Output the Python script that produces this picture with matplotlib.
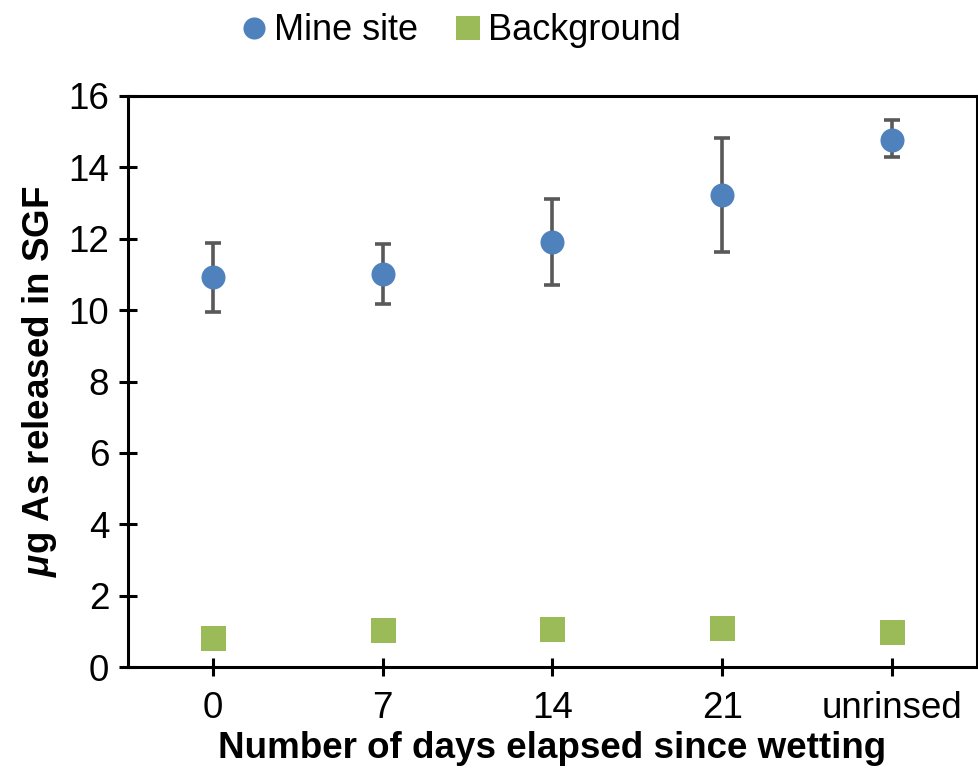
import matplotlib.pyplot as plt

plt.rcParams["font.family"] = ["Liberation Sans", "DejaVu Sans"]
plt.rcParams["mathtext.fontset"] = "custom"
plt.rcParams["mathtext.it"] = "Liberation Sans:italic:bold"
plt.rcParams["mathtext.rm"] = "Liberation Sans:bold"

# Arsenic released in simulated gastric fluid
categories = ["0", "7", "14", "21", "unrinsed"]
mine_mean = [10.92, 11.01, 11.90, 13.22, 14.78]
mine_err_low = [0.97, 0.85, 1.20, 1.58, 0.50]
mine_err_high = [0.97, 0.84, 1.20, 1.60, 0.54]
background = [0.80, 1.03, 1.06, 1.08, 0.97]

blue = "#4F81BD"
green = "#9BBB59"

fig = plt.figure(figsize=(9.79, 7.74), dpi=100)
ax = fig.add_axes([0.1307, 0.1382, 0.8673, 0.7378])

x = range(len(categories))
ax.errorbar(x, mine_mean, yerr=[mine_err_low, mine_err_high], fmt="none",
            ecolor="#595959", elinewidth=2.6, capsize=6, capthick=2.6, zorder=2)
ax.plot(x, mine_mean, "o", color=blue, markersize=17.3, markeredgewidth=0,
        label="Mine site", zorder=3)
ax.plot(x, background, "s", color=green, markersize=18, markeredgewidth=0,
        label="Background", zorder=3)

ax.set_xlim(-0.5, 4.5)
ax.set_ylim(0, 16)
ax.set_yticks(range(0, 17, 2))
ax.set_xticks(list(x))
ax.set_xticklabels(categories)

for side in ["left", "right", "top", "bottom"]:
    ax.spines[side].set_linewidth(2.2)
ax.tick_params(direction="inout", length=13, width=2.2, labelsize=26.5)
ax.tick_params(axis="y", pad=7)
ax.tick_params(axis="x", pad=11)

ax.set_xlabel("Number of days elapsed since wetting", fontsize=26.5,
              fontweight="bold", labelpad=3)
ax.set_ylabel(r"$\mu$g As released in SGF", fontsize=26.5,
              fontweight="bold", labelpad=7)

fig.legend(loc="upper center", bbox_to_anchor=(0.468, 1.025), ncol=2,
           frameon=False, fontsize=26, handletextpad=0.05, columnspacing=0.9,
           handlelength=1.0, markerscale=0.92)

fig.savefig("out.png", dpi=100)
plt.close(fig)
